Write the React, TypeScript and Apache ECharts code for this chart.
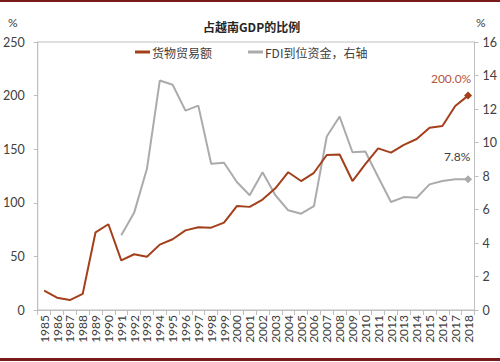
import React, { useEffect, useRef } from "react";
import * as echarts from "echarts";

const years: string[] = [
  "1985","1986","1987","1988","1989","1990","1991","1992","1993","1994",
  "1995","1996","1997","1998","1999","2000","2001","2002","2003","2004",
  "2005","2006","2007","2008","2009","2010","2011","2012","2013","2014",
  "2015","2016","2017","2018",
];

const tradeShare: number[] = [
  18, 11.5, 9.3, 15, 72.5, 80, 46.3, 52, 49.7, 61,
  66, 74.3, 77.2, 76.8, 81.5, 97, 96.2, 103, 113.5, 128.5,
  120.3, 128, 144.6, 145, 120.3, 136, 150.8, 146.8, 154, 159.5,
  170, 171.6, 190.3, 200,
];

const fdiShare: (number | null)[] = [
  null, null, null, null, null, null, 4.46, 5.8, 8.43, 13.7,
  13.45, 11.9, 12.2, 8.73, 8.79, 7.64, 6.85, 8.23, 6.85, 5.95,
  5.75, 6.2, 10.36, 11.55, 9.42, 9.46, 7.94, 6.45, 6.74, 6.7,
  7.5, 7.7, 7.8, 7.8,
];

const seriesNames = ["货物贸易额", "FDI到位资金，右轴"];
const chartTitle = "占越南GDP的比例";
const tradeLabel = "200.0%";
const fdiLabel = "7.8%";

const BROWN = "#a3401b";
const GRAY = "#ababab";
const AXIS = "#bfbfbf";
const TEXT = "#404040";
const NUM_FONT = "Lato, 'Noto Sans', sans-serif";
const CJK_FONT = "'Noto Sans CJK SC', sans-serif";

function withLastPoint(values: (number | null)[], label: string, color: string, labelColor: string, offset: number[]) {
  return values.map((v, i) => {
    if (i === values.length - 1) {
      return {
        value: v,
        symbol: "diamond",
        symbolSize: 8,
        itemStyle: { color },
        label: {
          show: true,
          position: "top",
          formatter: label,
          color: labelColor,
          fontSize: 12,
          fontFamily: NUM_FONT,
          offset,
        },
      };
    }
    return { value: v === null ? "-" : v, symbol: "none" };
  });
}

export default function App() {
  const ref = useRef<HTMLDivElement>(null);
  useEffect(() => {
    if (!ref.current) return;
    const chart = echarts.init(ref.current, null, { renderer: "svg" });
    chart.setOption({
      animation: false,
      backgroundColor: "#ffffff",
      title: {
        text: chartTitle,
        left: 198,
        top: 15,
        textStyle: { fontSize: 12, fontWeight: "bold", color: "#262626", fontFamily: CJK_FONT },
      },
      legend: {
        left: 130,
        top: 41,
        itemWidth: 15,
        itemHeight: 3,
        itemGap: 36,
        icon: "rect",
        textStyle: { fontSize: 12, color: TEXT, fontFamily: CJK_FONT, padding: [0, 0, 0, -3] },
        data: seriesNames,
      },
      grid: {
        left: 33,
        right: 22,
        top: 42,
        bottom: 52,
        show: true,
        borderColor: AXIS,
        borderWidth: 1,
      },
      xAxis: {
        type: "category",
        data: years,
        boundaryGap: true,
        axisLine: { lineStyle: { color: AXIS } },
        axisTick: { show: true, length: 5, lineStyle: { color: AXIS } },
        axisLabel: {
          rotate: 90,
          interval: 0,
          fontSize: 12,
          color: TEXT,
          fontFamily: NUM_FONT,
          margin: 5,
        },
      },
      yAxis: [
        {
          type: "value",
          min: 0,
          max: 250,
          interval: 50,
          splitLine: { show: false },
          axisLine: { show: true, lineStyle: { color: AXIS } },
          axisTick: { show: true, length: 4, lineStyle: { color: AXIS } },
          axisLabel: { fontSize: 12.5, color: TEXT, fontFamily: NUM_FONT, margin: 13 },
        },
        {
          type: "value",
          min: 0,
          max: 16,
          interval: 2,
          position: "right",
          splitLine: { show: false },
          axisLine: { show: true, lineStyle: { color: AXIS } },
          axisTick: { show: true, length: 4, lineStyle: { color: AXIS } },
          axisLabel: { fontSize: 12.5, color: TEXT, fontFamily: NUM_FONT, margin: 8 },
        },
      ],
      series: [
        {
          name: seriesNames[0],
          type: "line",
          yAxisIndex: 0,
          showSymbol: true,
          showAllSymbol: true,
          color: BROWN,
          lineStyle: { width: 2, color: BROWN },
          data: withLastPoint(tradeShare, tradeLabel, BROWN, "#b5533c", [-17, -2]),
          z: 3,
        },
        {
          name: seriesNames[1],
          type: "line",
          yAxisIndex: 1,
          showSymbol: true,
          showAllSymbol: true,
          color: GRAY,
          lineStyle: { width: 2, color: GRAY },
          data: withLastPoint(fdiShare, fdiLabel, GRAY, TEXT, [-11, -8]),
          z: 2,
        },
      ],
      graphic: [
        { type: "rect", left: 0, top: 0, shape: { width: 500, height: 2 }, style: { fill: "#7b1a1a" } },
        { type: "rect", left: 0, top: 358, shape: { width: 500, height: 3 }, style: { fill: "#7b1a1a" } },
        { type: "text", left: 8, top: 16, style: { text: "%", fontSize: 12, fill: TEXT, fontFamily: NUM_FONT } },
        { type: "text", left: 476, top: 16, style: { text: "%", fontSize: 12, fill: TEXT, fontFamily: NUM_FONT } },
      ],
    });
    return () => chart.dispose();
  }, []);
  return (
    <div
      ref={ref}
      style={{ position: "fixed", left: 0, top: 0, width: 500, height: 362, background: "#fff" }}
    />
  );
}
